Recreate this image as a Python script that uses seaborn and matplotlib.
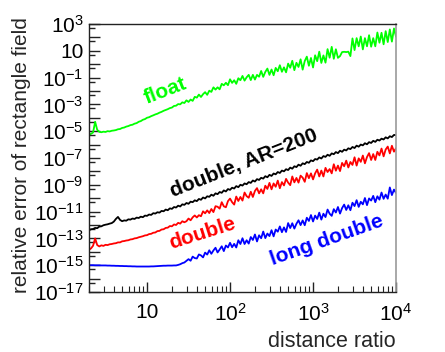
import numpy as np
import pandas as pd
import matplotlib
matplotlib.use("Agg")
import matplotlib.pyplot as plt
import matplotlib.ticker as mticker
import seaborn as sns

# log10 of the distance ratio (shared by all curves)
log_ratio = [
    0.300, 0.325, 0.350, 0.375, 0.400, 0.425, 0.450, 0.475, 0.500, 0.525,
    0.550, 0.575, 0.600, 0.625, 0.650, 0.675, 0.700, 0.725, 0.750, 0.775,
    0.800, 0.825, 0.850, 0.875, 0.900, 0.925, 0.950, 0.975, 1.000, 1.025,
    1.050, 1.075, 1.100, 1.125, 1.150, 1.175, 1.200, 1.225, 1.250, 1.275,
    1.300, 1.325, 1.350, 1.375, 1.400, 1.425, 1.450, 1.475, 1.500, 1.525,
    1.550, 1.575, 1.600, 1.625, 1.650, 1.675, 1.700, 1.725, 1.750, 1.775,
    1.800, 1.825, 1.850, 1.875, 1.900, 1.925, 1.950, 1.975, 2.000, 2.025,
    2.050, 2.075, 2.100, 2.125, 2.150, 2.175, 2.200, 2.225, 2.250, 2.275,
    2.300, 2.325, 2.350, 2.375, 2.400, 2.425, 2.450, 2.475, 2.500, 2.525,
    2.550, 2.575, 2.600, 2.625, 2.650, 2.675, 2.700, 2.725, 2.750, 2.775,
    2.800, 2.825, 2.850, 2.875, 2.900, 2.925, 2.950, 2.975, 3.000, 3.025,
    3.050, 3.075, 3.100, 3.125, 3.150, 3.175, 3.200, 3.225, 3.250, 3.275,
    3.300, 3.325, 3.350, 3.375, 3.400, 3.425, 3.450, 3.475, 3.500, 3.525,
    3.550, 3.575, 3.600, 3.625, 3.650, 3.675, 3.700, 3.725, 3.750, 3.775,
    3.800, 3.825, 3.850, 3.875, 3.900, 3.925, 3.950, 3.975, 4.000]

# log10 of the relative error
err_float = [
    -5.28, -5.20, -5.10, -4.30, -4.90, -5.05, -5.08, -5.04, -5.06, -5.00,
    -5.02, -4.97, -4.95, -4.92, -4.86, -4.84, -4.76, -4.73, -4.66, -4.62,
    -4.55, -4.52, -4.44, -4.40, -4.30, -4.25, -4.15, -4.10, -4.00, -3.96,
    -3.88, -3.82, -3.75, -3.70, -3.62, -3.56, -3.48, -3.42, -3.36, -3.28,
    -3.24, -3.12, -3.10, -2.98, -3.00, -2.85, -2.90, -2.70, -2.82, -2.64,
    -2.74, -2.44, -2.50, -2.27, -2.45, -2.24, -2.09, -2.29, -1.98, -2.07,
    -1.73, -1.90, -1.73, -1.88, -1.47, -1.58, -1.39, -1.57, -1.13, -1.40,
    -1.20, -1.47, -1.05, -1.20, -0.88, -1.23, -0.98, -0.80, -1.19, -0.80,
    -1.15, -0.80, -0.94, -0.51, -0.95, -0.58, -0.33, -0.80, -0.40, -0.83,
    -0.28, -0.53, -0.08, -0.57, -0.24, -0.61, 0.04, -0.27, 0.25, -0.45,
    0.10, -0.21, 0.36, -0.41, 0.23, 0.56, -0.12, 0.46, -0.25, 0.66,
    0.22, 0.93, 0.09, 0.65, 0.11, 1.12, 0.48, 1.29, 0.40, 1.11,
    0.47, 0.60, 0.90, 0.92, 0.90, 0.93, 0.60, 1.92, 1.05, 1.94,
    1.33, 2.06, 1.10, 1.94, 1.33, 2.16, 1.30, 1.94, 1.33, 2.36,
    1.60, 2.34, 1.48, 2.46, 1.65, 2.59, 1.68, 2.66, 2.05]

err_double_ar = [
    -12.40, -12.32, -12.30, -12.22, -12.24, -12.12, -12.10, -12.02, -11.98, -11.95,
    -11.90, -11.86, -11.75, -11.55, -11.40, -11.62, -11.72, -11.66, -11.68, -11.58,
    -11.60, -11.52, -11.55, -11.45, -11.48, -11.38, -11.42, -11.30, -11.32, -11.22,
    -11.25, -11.12, -11.15, -11.05, -11.08, -10.95, -10.98, -10.85, -10.90, -10.76,
    -10.80, -10.66, -10.70, -10.56, -10.62, -10.46, -10.50, -10.36, -10.42, -10.26,
    -10.30, -10.16, -10.22, -10.06, -10.12, -9.95, -10.02, -9.86, -9.90, -9.74,
    -9.82, -9.64, -9.70, -9.54, -9.60, -9.42, -9.50, -9.32, -9.38, -9.22,
    -9.28, -9.10, -9.18, -9.00, -9.06, -8.90, -8.96, -8.80, -8.86, -8.68,
    -8.76, -8.58, -8.64, -8.48, -8.54, -8.36, -8.44, -8.26, -8.34, -8.16,
    -8.22, -8.05, -8.12, -7.94, -8.00, -7.84, -7.90, -7.72, -7.80, -7.62,
    -7.68, -7.50, -7.58, -7.40, -7.46, -7.30, -7.36, -7.18, -7.24, -7.08,
    -7.12, -6.96, -7.04, -6.86, -6.92, -6.76, -6.84, -6.66, -6.72, -6.56,
    -6.64, -6.46, -6.54, -6.38, -6.44, -6.28, -6.34, -6.18, -6.26, -6.08,
    -6.16, -6.00, -6.06, -5.90, -5.98, -5.82, -5.88, -5.72, -5.80, -5.64,
    -5.70, -5.56, -5.62, -5.46, -5.54, -5.38, -5.44, -5.28, -5.30]

err_double = [
    -13.85, -13.75, -13.55, -13.00, -13.50, -13.60, -13.52, -13.56, -13.48, -13.50,
    -13.44, -13.42, -13.38, -13.36, -13.30, -13.30, -13.22, -13.20, -13.16, -13.14,
    -13.08, -13.06, -13.00, -12.98, -12.92, -12.88, -12.84, -12.78, -12.76, -12.68,
    -12.66, -12.58, -12.56, -12.46, -12.44, -12.34, -12.32, -12.22, -12.20, -12.08,
    -12.10, -11.96, -12.00, -11.84, -11.90, -11.72, -11.80, -11.72, -11.52, -11.65,
    -11.43, -11.29, -11.44, -11.27, -11.35, -10.98, -11.13, -10.91, -11.11, -10.81,
    -11.04, -10.60, -10.64, -10.78, -10.30, -10.61, -10.68, -10.22, -10.03, -10.30,
    -10.48, -9.88, -10.21, -9.91, -10.18, -9.58, -9.85, -9.97, -9.52, -9.91,
    -9.46, -9.25, -9.64, -9.34, -9.64, -9.07, -9.31, -8.86, -9.34, -8.90,
    -9.15, -8.69, -9.26, -8.80, -9.05, -8.56, -8.84, -9.03, -8.38, -8.82,
    -8.49, -8.84, -8.32, -8.47, -8.78, -8.13, -8.51, -8.15, -8.60, -8.15,
    -7.87, -8.38, -7.94, -8.38, -7.74, -8.05, -7.83, -8.15, -7.47, -7.95,
    -7.57, -7.98, -7.37, -7.62, -7.20, -7.71, -7.30, -7.52, -6.95, -7.57,
    -7.03, -7.29, -6.82, -7.40, -6.93, -6.64, -7.15, -6.71, -7.15, -6.54,
    -6.81, -6.30, -6.88, -6.37, -6.15, -6.66, -6.09, -6.53, -6.27]

err_long_double = [
    -15.00, -15.00, -15.00, -15.01, -15.01, -15.01, -15.02, -15.02, -15.02, -15.03,
    -15.03, -15.04, -15.04, -15.05, -15.05, -15.06, -15.06, -15.07, -15.07, -15.08,
    -15.08, -15.09, -15.09, -15.10, -15.10, -15.10, -15.10, -15.10, -15.10, -15.10,
    -15.09, -15.09, -15.08, -15.07, -15.06, -15.05, -15.04, -15.04, -15.03, -15.03,
    -15.03, -15.02, -15.02, -14.98, -14.93, -14.85, -14.80, -14.68, -14.55, -14.67,
    -14.36, -14.47, -14.50, -14.20, -14.27, -14.42, -14.06, -14.21, -13.89, -14.15,
    -13.90, -13.70, -14.05, -13.83, -13.59, -13.95, -13.53, -13.68, -13.33, -13.66,
    -13.41, -13.68, -13.14, -13.42, -12.99, -13.42, -13.14, -13.39, -12.90, -13.12,
    -12.71, -13.23, -12.77, -12.99, -12.49, -12.98, -12.64, -12.83, -12.39, -12.85,
    -12.34, -12.50, -12.11, -12.54, -12.18, -12.52, -11.86, -12.23, -11.87, -12.27,
    -11.91, -11.65, -12.01, -11.66, -12.02, -11.46, -11.70, -11.26, -11.74, -11.30,
    -11.55, -11.08, -11.60, -11.16, -11.41, -10.85, -11.16, -11.32, -10.82, -11.07,
    -10.66, -11.15, -10.74, -10.48, -10.88, -10.53, -10.90, -10.34, -10.59, -10.15,
    -10.65, -10.27, -10.46, -9.99, -10.52, -10.02, -10.18, -9.83, -10.30, -9.86,
    -10.11, -9.58, -10.05, -9.73, -10.04, -9.20, -9.77, -9.36, -9.61]

series_names = ["float", "double, AR=200", "double", "long double"]
series_colors = ["#00ff00", "#000000", "#ff0000", "#0000ff"]

sns.set_theme(style="ticks")
plt.rcParams["font.family"] = ["Liberation Sans", "DejaVu Sans"]
plt.rcParams["mathtext.fontset"] = "custom"
plt.rcParams["mathtext.rm"] = "Liberation Sans"
plt.rcParams["mathtext.it"] = "Liberation Sans:italic"
plt.rcParams["mathtext.bf"] = "Liberation Sans:bold"


def build_frame():
    frames = []
    for name, vals in zip(series_names,
                          [err_float, err_double_ar, err_double, err_long_double]):
        frames.append(pd.DataFrame({
            "ratio": 10.0 ** np.array(log_ratio),
            "error": 10.0 ** np.array(vals),
            "precision": name,
        }))
    return pd.concat(frames, ignore_index=True)


def pow_label(v, pos):
    e = int(round(np.log10(v)))
    if e == 1:
        return "10"
    return r"$\mathregular{10^{%d}}$" % e


def plot_data(df):
    fig = plt.figure(figsize=(4.45, 3.52), dpi=100)
    ax = fig.add_axes([0.2, 0.1705, 0.69, 0.7615])

    sns.lineplot(data=df, x="ratio", y="error", hue="precision",
                 palette=dict(zip(series_names, series_colors)),
                 estimator=None, legend=False, lw=1.3, ax=ax)

    ax.set_xscale("log")
    ax.set_yscale("log")
    ax.set_xlim(2, 1e4)
    ax.set_ylim(1e-17, 1e3)

    ax.xaxis.set_major_locator(mticker.FixedLocator([10, 1e2, 1e3, 1e4]))
    ax.xaxis.set_major_formatter(mticker.FuncFormatter(pow_label))
    ax.xaxis.set_minor_locator(mticker.LogLocator(base=10, subs=np.arange(2, 10), numticks=20))
    ax.xaxis.set_minor_formatter(mticker.NullFormatter())

    ax.yaxis.set_major_locator(mticker.FixedLocator([10.0 ** e for e in range(-17, 4)]))
    ax.yaxis.set_major_formatter(mticker.FuncFormatter(
        lambda v, p: pow_label(v, p) if int(round(np.log10(v))) % 2 != 0 else ""))
    ax.yaxis.set_minor_locator(mticker.LogLocator(base=10, subs=[5.0], numticks=30))
    ax.yaxis.set_minor_formatter(mticker.NullFormatter())

    ax.tick_params(axis="both", which="both", direction="in", colors="#222222",
                   labelcolor="black", top=False, right=False)
    ax.tick_params(axis="both", which="major", labelsize=15, width=1.0)
    ax.tick_params(axis="x", which="major", length=7, pad=8)
    ax.tick_params(axis="x", which="minor", length=4, width=0.8)
    ax.tick_params(axis="y", which="major", length=8, pad=4)
    ax.tick_params(axis="y", which="minor", length=4, width=1.0)

    for side in ["left", "bottom", "top"]:
        ax.spines[side].set_color("#222222")
        ax.spines[side].set_linewidth(1.0)
    ax.spines["right"].set_color("#999999")
    ax.spines["right"].set_linewidth(1.2)

    ax.set_xlabel("distance ratio", fontsize=15.5, loc="right", labelpad=4)
    ax.set_ylabel("relative error of rectangle field", fontsize=15)
    ax.yaxis.set_label_coords(-0.19, 0.51)

    # curve labels, placed like the original annotations
    ax.text(0.248, 0.750, "float", color=series_colors[0], transform=ax.transAxes,
            fontsize=15, fontweight="bold", rotation=21, ha="center", va="center")
    ax.text(0.505, 0.481, "double, AR=200", color=series_colors[1], transform=ax.transAxes,
            fontsize=15, fontweight="bold", rotation=21.5, ha="center", va="center")
    ax.text(0.368, 0.220, "double", color=series_colors[2], transform=ax.transAxes,
            fontsize=15, fontweight="bold", rotation=17.5, ha="center", va="center")
    ax.text(0.775, 0.194, "long double", color=series_colors[3], transform=ax.transAxes,
            fontsize=15, fontweight="bold", rotation=19.5, ha="center", va="center")

    fig.savefig("out.png", dpi=100)


def main():
    df = build_frame()
    plot_data(df)


if __name__ == "__main__":
    main()
